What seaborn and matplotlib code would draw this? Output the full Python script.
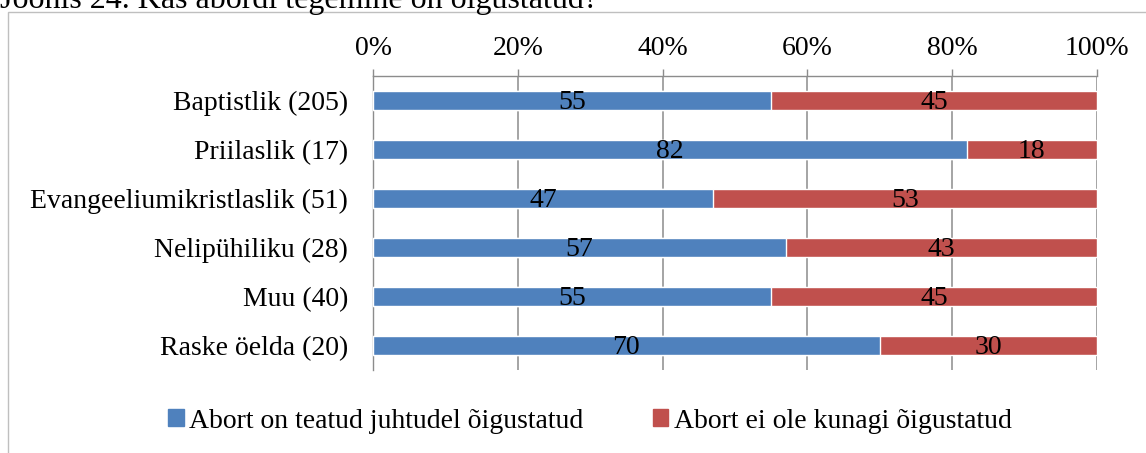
import numpy as np
import pandas as pd
import matplotlib
matplotlib.use('Agg')
import matplotlib.pyplot as plt
from matplotlib.patches import Rectangle, Patch
import seaborn as sns

# --- data -------------------------------------------------------------------
categories = ['Baptistlik (205)', 'Priilaslik (17)', 'Evangeeliumikristlaslik (51)',
              'Nelipühiliku (28)', 'Muu (40)', 'Raske öelda (20)']
justified = [55, 82, 47, 57, 55, 70]
never = [45, 18, 53, 43, 45, 30]
xticks = [0, 20, 40, 60, 80, 100]
series_names = ['Abort on teatud juhtudel õigustatud', 'Abort ei ole kunagi õigustatud']
title = 'Joonis 24. Kas abordi tegemine on õigustatud?'

BLUE = '#4F81BD'
RED = '#C0504D'
GRID = '#8C8C8C'
FS = 20

sns.set_style('white')
plt.rcParams['font.family'] = ['Liberation Serif', 'DejaVu Serif']
plt.rcParams['text.color'] = 'black'
plt.rcParams['xtick.labelcolor'] = 'black'
plt.rcParams['ytick.labelcolor'] = 'black'

df = pd.DataFrame({'cat': categories, 'justified': justified, 'never': never})
df['total'] = df['justified'] + df['never']

W, H = 1146, 453
fig = plt.figure(figsize=(W / 100, H / 100), dpi=100)
ax = fig.add_axes([373 / W, 1 - 370 / H, (1097 - 373) / W, (370 - 76) / H])

# stacked bars: full (red) under, blue on top
sns.barplot(data=df, y='cat', x='total', color=RED, width=0.39, ax=ax,
            saturation=1, zorder=3)
sns.barplot(data=df, y='cat', x='justified', color=BLUE, width=0.39, ax=ax,
            saturation=1, zorder=3)

for i, row in df.iterrows():
    ax.text(row['justified'] / 2, i + 0.04, str(row['justified']), ha='center',
            va='center', fontsize=FS, color='black', zorder=5)
    ax.text(row['justified'] + row['never'] / 2, i + 0.04, str(row['never']),
            ha='center', va='center', fontsize=FS, color='black', zorder=5)

ax.set_xlim(0, 100)
ax.set_ylim(len(categories) - 0.5, -0.5)
ax.set_xlabel('')
ax.set_ylabel('')

# x axis on top
ax.xaxis.tick_top()
ax.set_xticks(xticks)
ax.set_xticklabels([f'{v}%' for v in xticks])
ax.tick_params(axis='x', direction='out', length=5, width=1, color=GRID,
               labelsize=FS, labelcolor='black', pad=6)
ax.grid(axis='x', color=GRID, lw=1.1, zorder=0)
ax.set_axisbelow(True)

# y ticks: labels at centres, marks at boundaries
ax.set_yticks(range(len(categories)))
ax.set_yticks(np.arange(-0.5, len(categories)), minor=True)
ax.tick_params(axis='y', which='major', length=0, labelsize=FS, labelcolor='black', pad=18)
ax.tick_params(axis='y', which='minor', direction='out', length=5, width=1, color=GRID)

for s in ['right', 'bottom']:
    ax.spines[s].set_visible(False)
for s in ['left', 'top']:
    ax.spines[s].set_color(GRID)
    ax.spines[s].set_linewidth(1)

# legend
handles = [Patch(color=BLUE), Patch(color=RED)]
fig.legend(handles, series_names, loc='center', bbox_to_anchor=(590 / W, 1 - 421 / H),
           ncol=2, frameon=False, handlelength=0.55, handleheight=0.55,
           handletextpad=0.2, columnspacing=2.5, fontsize=FS, labelcolor='black')

# chart border (cut by the image edges) and partly cropped caption
fig.patches.append(Rectangle((8 / W, -0.1), 1.2, 1 - 12 / H + 0.1,
                             transform=fig.transFigure, fill=False,
                             ec='#BFBFBF', lw=1))
fig.text(0.0, 1 - 8 / H, title, ha='left', va='baseline', fontsize=23, color='black')

fig.savefig('out.png', dpi=100)
